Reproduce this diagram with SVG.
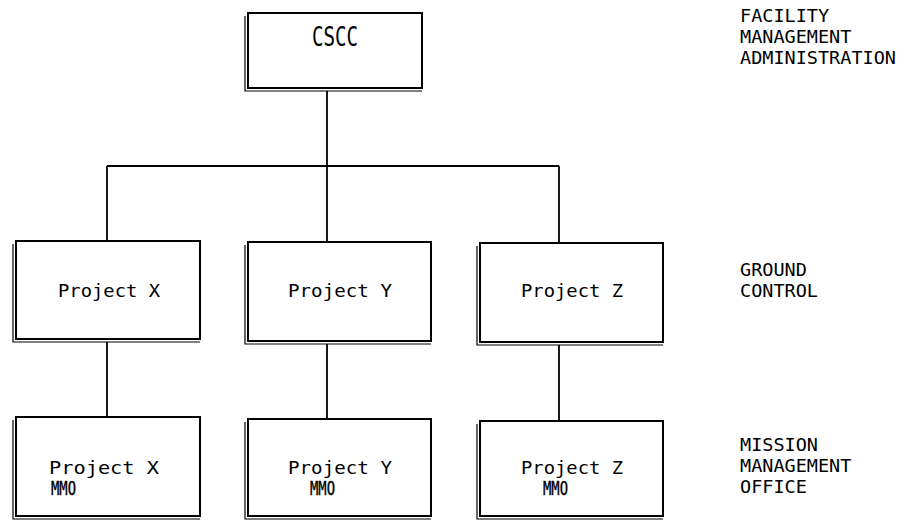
<svg xmlns="http://www.w3.org/2000/svg" width="915" height="521" viewBox="0 0 915 521">
  <style>
    .box { fill: #fff; stroke: #000; stroke-width: 2; }
    .shadow { fill: none; stroke: #000; stroke-width: 1.2; }
    .wire { fill: none; stroke: #000; stroke-width: 1.8; }
    text { font-family: "DejaVu Sans Mono", "Liberation Mono", monospace; font-size: 18.5px; fill: #000; }
    .mmo { font-size: 19px; stroke: #000; stroke-width: 0.4; }
  </style>
  <rect width="915" height="521" fill="#fff"/>

  <!-- connectors -->
  <g id="connectors">
    <path class="wire" d="M327,91 V166 M107,166 H559 M107,166 V241 M327,166 V242 M559,166 V243"/>
    <path class="wire" d="M107,342 V417 M327,344 V419 M559,345 V421"/>
  </g>

  <!-- top level -->
  <g id="cscc">
    <rect class="box" x="248" y="13" width="174" height="75"/>
    <path class="shadow" d="M245,16 V91 H422"/>
    <text x="312" y="46" style="font-size:26px" textLength="46" lengthAdjust="spacingAndGlyphs">CSCC</text>
  </g>

  <!-- ground control row -->
  <g id="project-x">
    <rect class="box" x="16" y="241" width="184" height="98"/>
    <path class="shadow" d="M13,244 V342 H200"/>
    <text x="58" y="297" textLength="102" lengthAdjust="spacingAndGlyphs">Project X</text>
  </g>
  <g id="project-y">
    <rect class="box" x="248" y="242" width="183" height="99"/>
    <path class="shadow" d="M245,245 V344 H431"/>
    <text x="288" y="297" textLength="104" lengthAdjust="spacingAndGlyphs">Project Y</text>
  </g>
  <g id="project-z">
    <rect class="box" x="480" y="243" width="183" height="99"/>
    <path class="shadow" d="M477,246 V345 H663"/>
    <text x="521" y="297" textLength="102" lengthAdjust="spacingAndGlyphs">Project Z</text>
  </g>

  <!-- mission management office row -->
  <g id="project-x-mmo">
    <rect class="box" x="16" y="417" width="184" height="99"/>
    <path class="shadow" d="M13,420 V519 H200"/>
    <text x="49" y="474" textLength="110" lengthAdjust="spacingAndGlyphs">Project X</text>
    <text class="mmo" x="51" y="495" textLength="25" lengthAdjust="spacingAndGlyphs">MMO</text>
  </g>
  <g id="project-y-mmo">
    <rect class="box" x="248" y="419" width="183" height="97"/>
    <path class="shadow" d="M245,422 V519 H431"/>
    <text x="288" y="474" textLength="104" lengthAdjust="spacingAndGlyphs">Project Y</text>
    <text class="mmo" x="310" y="495" textLength="25" lengthAdjust="spacingAndGlyphs">MMO</text>
  </g>
  <g id="project-z-mmo">
    <rect class="box" x="480" y="421" width="183" height="95"/>
    <path class="shadow" d="M477,424 V519 H663"/>
    <text x="521" y="474" textLength="102" lengthAdjust="spacingAndGlyphs">Project Z</text>
    <text class="mmo" x="543" y="495" textLength="25" lengthAdjust="spacingAndGlyphs">MMO</text>
  </g>

  <!-- level captions -->
  <g id="caption-facility">
    <text x="740" y="22">FACILITY</text>
    <text x="740" y="43">MANAGEMENT</text>
    <text x="740" y="64">ADMINISTRATION</text>
  </g>
  <g id="caption-ground">
    <text x="740" y="276">GROUND</text>
    <text x="740" y="297">CONTROL</text>
  </g>
  <g id="caption-mission">
    <text x="740" y="451">MISSION</text>
    <text x="740" y="472">MANAGEMENT</text>
    <text x="740" y="493">OFFICE</text>
  </g>
</svg>
